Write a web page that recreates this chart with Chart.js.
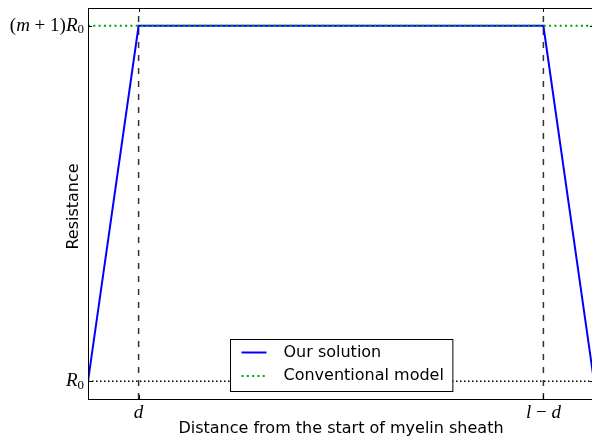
<!DOCTYPE html>
<html>
<head>
<meta charset="utf-8">
<script src="https://cdn.jsdelivr.net/npm/chart.js@4/dist/chart.umd.min.js"></script>
<style>
  html, body { margin: 0; padding: 0; background: #fff; overflow: hidden; }
  #wrap { width: 592px; height: 439px; overflow: hidden; }
  canvas { display: block; }
</style>
</head>
<body>
<div id="wrap"><canvas id="c" width="600" height="439"></canvas></div>
<script>
// Positions along the sheath (fraction of its length l): 0, d, l-d, l
const positions = [0, 0.1, 0.9, 1.0];
// Resistance in units of R0 (m = 10)
const ourSolution = [1, 11, 11, 1];
const conventionalX = [0, 1.0];
const conventionalModel = [11, 11];
const baseR0X = [0, 1.0];
const baseR0 = [1, 1];
const markerD = 0.1;
const markerLD = 0.9;

// Axis ranges and ticks
const xRange = [0, 1.0];
const yRange = [0.5, 11.5];
const xTickValues = [0.1, 0.9];
const xTickLabels = [[{t: 'd', it: true}], [{t: 'l', it: true}, {t: ' \u2212 ', it: false}, {t: 'd', it: true}]];
const yTickValues = [1, 11];
const yTickLabels = [
  [{t: 'R', it: true}, {t: '0', sub: true}],
  [{t: '(', it: false}, {t: 'm', it: true}, {t: ' + ', it: false}, {t: '1)', it: false}, {t: 'R', it: true}, {t: '0', sub: true}]
];
const xTitle = 'Distance from the start of myelin sheath';
const yTitle = 'Resistance';

const pts = (xs, ys) => xs.map((x, i) => ({x: x, y: ys[i]}));

const SANS = '"DejaVu Sans", sans-serif';
const SERIF = '"Liberation Serif", "DejaVu Serif", serif';
const MATH_SIZE = 19;

function mathWidth(ctx, parts) {
  let w = 0;
  for (const p of parts) {
    ctx.font = (p.it ? 'italic ' : '') + (p.sub ? Math.round(MATH_SIZE * 0.7) : MATH_SIZE) + 'px ' + SERIF;
    w += ctx.measureText(p.t).width;
  }
  return w;
}
function drawMath(ctx, parts, x, y, align) {
  const w = mathWidth(ctx, parts);
  let cx = align === 'right' ? x - w : (align === 'center' ? x - w / 2 : x);
  ctx.textBaseline = 'middle';
  ctx.textAlign = 'left';
  for (const p of parts) {
    ctx.font = (p.it ? 'italic ' : '') + (p.sub ? Math.round(MATH_SIZE * 0.7) : MATH_SIZE) + 'px ' + SERIF;
    ctx.fillStyle = '#000';
    ctx.fillText(p.t, cx, p.sub ? y + 4 : y);
    cx += ctx.measureText(p.t).width;
  }
}

const decor = {
  id: 'decor',
  afterDatasetsDraw(chart) {
    const ctx = chart.ctx;
    const a = chart.chartArea;
    const xs = chart.scales.x, ys = chart.scales.y;
    ctx.save();
    // frame
    ctx.strokeStyle = '#000';
    ctx.lineWidth = 1;
    ctx.strokeRect(a.left + 0.5, a.top + 0.5, a.right - a.left - 1, a.bottom - a.top);
    // inward tick marks
    ctx.beginPath();
    for (const v of xTickValues) {
      const px = Math.round(xs.getPixelForValue(v)) + 0.5;
      ctx.moveTo(px, a.bottom); ctx.lineTo(px, a.bottom - 4);
      ctx.moveTo(px, a.top); ctx.lineTo(px, a.top + 4);
    }
    for (const v of yTickValues) {
      const py = Math.round(ys.getPixelForValue(v)) + 0.5;
      ctx.moveTo(a.left, py); ctx.lineTo(a.left + 4, py);
      ctx.moveTo(a.right, py); ctx.lineTo(a.right - 4, py);
    }
    ctx.stroke();
    // tick labels
    xTickValues.forEach((v, i) => drawMath(ctx, xTickLabels[i], xs.getPixelForValue(v), a.bottom + 14, 'center'));
    yTickValues.forEach((v, i) => drawMath(ctx, yTickLabels[i], a.left - 4, ys.getPixelForValue(v), 'right'));
    // axis titles
    ctx.fillStyle = '#000';
    ctx.font = '16px ' + SANS;
    ctx.textAlign = 'center';
    ctx.textBaseline = 'middle';
    const cxp = (a.left + a.right) / 2;
    ctx.fillText(xTitle, cxp, 429);
    ctx.save();
    ctx.translate(74, (a.top + a.bottom) / 2 + 3);
    ctx.rotate(-Math.PI / 2);
    ctx.fillText(yTitle, 0, 0);
    ctx.restore();
    // legend (lower centre)
    const items = chart.data.datasets.filter(d => d.label);
    ctx.font = '16px ' + SANS;
    const tw = Math.max(...items.map(d => ctx.measureText(d.label).width));
    const bw = 11 + 25 + 17 + tw + 9;
    const bh = 52;
    const bx = Math.round(cxp - bw / 2) + 0.5;
    const by = a.bottom - 8 - bh + 0.5;
    ctx.fillStyle = '#fff';
    ctx.fillRect(bx, by, bw, bh);
    ctx.strokeStyle = '#000';
    ctx.lineWidth = 1;
    ctx.strokeRect(bx, by, bw, bh);
    items.forEach((d, i) => {
      const ry = by + 13 + i * 23.5;
      ctx.beginPath();
      ctx.strokeStyle = d.borderColor;
      ctx.lineWidth = d.borderWidth;
      ctx.setLineDash(d.borderDash || []);
      ctx.moveTo(bx + 11, ry);
      ctx.lineTo(bx + 36, ry);
      ctx.stroke();
      ctx.setLineDash([]);
      ctx.fillStyle = '#000';
      ctx.textAlign = 'left';
      ctx.fillText(d.label, bx + 53, ry);
    });
    ctx.restore();
  }
};

new Chart(document.getElementById('c'), {
  type: 'line',
  data: {
    datasets: [
      { label: 'Our solution', data: pts(positions, ourSolution), borderColor: '#0000ff', borderWidth: 2, order: 2 },
      { label: 'Conventional model', data: pts(conventionalX, conventionalModel), borderColor: '#00a000', borderWidth: 2, borderDash: [2, 3.3], order: 1 },
      { label: '', data: pts(baseR0X, baseR0), borderColor: '#000', borderWidth: 1.5, borderDash: [1.5, 2.5], order: 3 },
      { label: '', data: pts([markerD, markerD], yRange), borderColor: '#333', borderWidth: 1.5, borderDash: [6, 7], order: 4 },
      { label: '', data: pts([markerLD, markerLD], yRange), borderColor: '#333', borderWidth: 1.5, borderDash: [6, 7], order: 4 }
    ]
  },
  options: {
    responsive: false,
    animation: false,
    events: [],
    layout: { padding: { left: 0, right: 6, top: 8, bottom: 0 } },
    elements: { point: { radius: 0 }, line: { tension: 0, fill: false } },
    plugins: { legend: { display: false }, tooltip: { enabled: false } },
    scales: {
      x: {
        type: 'linear', min: xRange[0], max: xRange[1],
        grid: { display: false }, border: { display: false },
        ticks: { display: false },
        afterBuildTicks: s => { s.ticks = xTickValues.map(v => ({value: v})); },
        afterFit: s => { s.height = 40; }
      },
      y: {
        type: 'linear', min: yRange[0], max: yRange[1],
        grid: { display: false }, border: { display: false },
        ticks: { display: false },
        afterBuildTicks: s => { s.ticks = yTickValues.map(v => ({value: v})); },
        afterFit: s => { s.width = 88; }
      }
    }
  },
  plugins: [decor]
});
</script>
</body>
</html>
